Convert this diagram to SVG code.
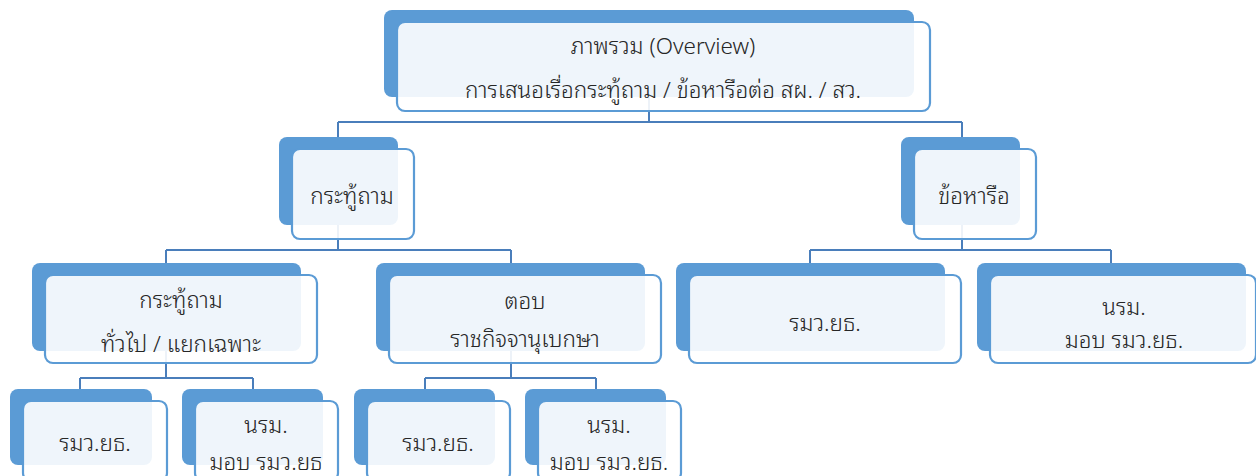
<svg xmlns="http://www.w3.org/2000/svg" width="1256" height="476" viewBox="0 0 1256 476">
<style>
.bk{fill:#5b9bd5;}
.fr{fill:#ffffff;fill-opacity:0.9;stroke:#5b9bd5;stroke-width:2.2;}
.cn{fill:none;stroke:#4a7ebb;stroke-width:2;}
text{font-family:"Noto Sans Thai Looped","Loma","Garuda","Waree","Tahoma","Noto Sans Thai","Noto Sans",sans-serif;font-size:22.5px;font-weight:300;fill:#262626;text-anchor:middle;}
</style>
<rect width="1256" height="476" fill="#ffffff"/>
<g id="connectors">
<path class="cn" d="M649,60 V122 M338,122 H962 M338,122 V180 M962,122 V180"/>
<path class="cn" d="M338,180 V250 M166,250 H511 M166,250 V300 M511,250 V300"/>
<path class="cn" d="M962,180 V250 M810,250 H1111 M810,250 V300 M1111,250 V300"/>
<path class="cn" d="M166,300 V378 M80,378 H253 M80,378 V420 M253,378 V420"/>
<path class="cn" d="M511,300 V378 M425,378 H596 M425,378 V420 M596,378 V420"/>
</g>
<g id="root">
<rect class="bk" x="384" y="10" width="530" height="87" rx="8"/>
<rect class="fr" x="397" y="22" width="533" height="89" rx="8"/>
<text x="663" y="54">ภาพรวม (Overview)</text>
<text x="663" y="98">การเสนอเรื่อกระทู้ถาม / ข้อหารือต่อ สผ. / สว.</text>
</g>
<g id="kratu">
<rect class="bk" x="279" y="137" width="119" height="88" rx="8"/>
<rect class="fr" x="292" y="149" width="122" height="90" rx="8"/>
<text x="352" y="204">กระทู้ถาม</text>
</g>
<g id="khoharue">
<rect class="bk" x="901" y="137" width="119" height="88" rx="8"/>
<rect class="fr" x="914" y="149" width="122" height="90" rx="8"/>
<text x="974" y="204">ข้อหารือ</text>
</g>
<g id="kratu-general">
<rect class="bk" x="32" y="263" width="269" height="88" rx="8"/>
<rect class="fr" x="45" y="275" width="272" height="88" rx="8"/>
<text x="181" y="308">กระทู้ถาม</text>
<text x="181" y="352">ทั่วไป / แยกเฉพาะ</text>
</g>
<g id="tob">
<rect class="bk" x="376" y="263" width="269" height="88" rx="8"/>
<rect class="fr" x="389" y="275" width="272" height="88" rx="8"/>
<text x="525" y="309">ตอบ</text>
<text x="525" y="347">ราชกิจจานุเบกษา</text>
</g>
<g id="rmw-2">
<rect class="bk" x="676" y="263" width="269" height="88" rx="8"/>
<rect class="fr" x="689" y="275" width="272" height="88" rx="8"/>
<text x="825" y="331">รมว.ยธ.</text>
</g>
<g id="nrm-2">
<rect class="bk" x="977" y="263" width="269" height="88" rx="8"/>
<rect class="fr" x="990" y="275" width="266" height="88" rx="8"/>
<text x="1124" y="315">นรม.</text>
<text x="1124" y="348">มอบ รมว.ยธ.</text>
</g>
<g id="rmw-3a">
<rect class="bk" x="10" y="389" width="142" height="76" rx="8"/>
<rect class="fr" x="23" y="401" width="144" height="80" rx="8"/>
<text x="95" y="451">รมว.ยธ.</text>
</g>
<g id="nrm-3a">
<rect class="bk" x="182" y="389" width="141" height="76" rx="8"/>
<rect class="fr" x="195" y="401" width="143" height="80" rx="8"/>
<text x="266" y="433">นรม.</text>
<text x="266" y="470">มอบ รมว.ยธ</text>
</g>
<g id="rmw-3b">
<rect class="bk" x="354" y="389" width="141" height="76" rx="8"/>
<rect class="fr" x="367" y="401" width="143" height="80" rx="8"/>
<text x="438" y="451">รมว.ยธ.</text>
</g>
<g id="nrm-3b">
<rect class="bk" x="525" y="389" width="141" height="76" rx="8"/>
<rect class="fr" x="538" y="401" width="143" height="80" rx="8"/>
<text x="609" y="433">นรม.</text>
<text x="609" y="470">มอบ รมว.ยธ.</text>
</g>
</svg>
